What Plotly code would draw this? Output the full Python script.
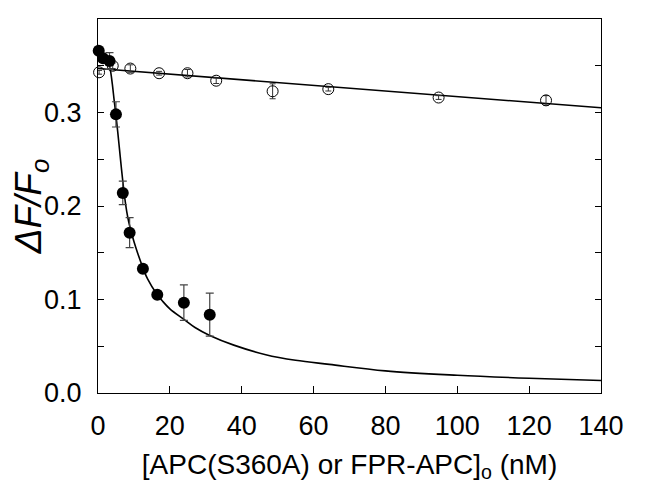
import plotly.graph_objects as go

# Open circles: FPR-APC
open_x = [0.3, 4.1, 9.0, 17.0, 24.9, 32.9, 48.6, 64.1, 94.8, 124.7]
open_y = [0.343, 0.350, 0.347, 0.342, 0.342, 0.334, 0.3227, 0.325, 0.316, 0.313]
open_err = [0.002, 0.003, 0.004, 0.002, 0.004, 0.003, 0.008, 0.002, 0.002, 0.005]

# Filled circles: APC(S360A)
fill_x = [0.2, 1.4, 3.2, 5.0, 6.9, 8.8, 12.5, 16.5, 23.9, 31.1]
fill_y = [0.366, 0.358, 0.355, 0.298, 0.2140, 0.1715, 0.133, 0.105, 0.0966, 0.0838]
fill_err = [0.002, 0.003, 0.009, 0.0135, 0.0125, 0.016, 0.003, 0.003, 0.019, 0.023]

# Fitted lines
fitA_x = [0, 140]
fitA_y = [0.347, 0.305]

fitB_x = [0, 1, 2, 2.5, 3.0, 3.5, 4.0, 4.5, 5.0, 5.5, 6.0, 6.5, 7.0, 7.5, 8.0, 8.5, 9.0, 10,
          11, 12.5, 13.8, 16.5, 17.8, 20, 23.9, 27, 31.1, 37.8, 46.7, 55, 64.4, 80, 100, 120, 140]
fitB_y = [0.369, 0.366, 0.361, 0.357, 0.352, 0.344, 0.330, 0.313, 0.297, 0.279, 0.260, 0.241,
          0.223, 0.207, 0.194, 0.184, 0.176, 0.162, 0.150, 0.134, 0.122, 0.105, 0.099, 0.090,
          0.0787, 0.070, 0.0615, 0.0512, 0.0410, 0.0350, 0.0306, 0.0237, 0.0190, 0.0158, 0.0134]

x_ticks = [0, 20, 40, 60, 80, 100, 120, 140]
y_ticks = [0.0, 0.1, 0.2, 0.3, 0.4]

fig = go.Figure()

fig.add_trace(go.Scatter(x=fitA_x, y=fitA_y, mode="lines",
                         line=dict(color="black", width=1.6), showlegend=False, hoverinfo="skip"))
fig.add_trace(go.Scatter(x=fitB_x, y=fitB_y, mode="lines", line_shape="spline",
                         line=dict(color="black", width=1.6), showlegend=False, hoverinfo="skip"))

fig.add_trace(go.Scatter(
    x=open_x, y=open_y, mode="markers",
    marker=dict(symbol="circle-open", size=11, color="black", line=dict(width=1)),
    error_y=dict(type="data", array=open_err, visible=True, color="#333333", thickness=1, width=3),
    cliponaxis=False, showlegend=False))

fig.add_trace(go.Scatter(
    x=fill_x, y=fill_y, mode="markers",
    marker=dict(symbol="circle", size=12, color="black"),
    error_y=dict(type="data", array=fill_err, visible=True, color="#444444", thickness=1.2, width=4),
    cliponaxis=False, showlegend=False))

font_family = "Liberation Sans, Arial, sans-serif"

fig.update_layout(
    width=650, height=496,
    margin=dict(l=90, r=57, t=11, b=111, autoexpand=False),
    paper_bgcolor="white", plot_bgcolor="white",
    font=dict(family=font_family, color="black", size=27),
    xaxis=dict(
        range=[0, 140], tickvals=x_ticks, ticktext=[str(v) for v in x_ticks],
        ticks="inside", ticklen=7, tickwidth=1, tickcolor="black",
        showline=True, linecolor="black", linewidth=1.2, mirror=True,
        showgrid=False, zeroline=False, automargin=False,
        tickfont=dict(size=27), ticklabelstandoff=8,
        title=dict(text="[APC(S360A) or FPR-APC]<sub>o</sub> (nM)", font=dict(size=28), standoff=14),
    ),
    yaxis=dict(
        range=[0, 0.4], tickvals=y_ticks, ticktext=["%.1f" % v for v in y_ticks],
        ticks="inside", ticklen=6, tickwidth=1, tickcolor="black",
        minor=dict(dtick=0.05, ticks="inside", ticklen=6, tickwidth=1, tickcolor="black", showgrid=False),
        showline=True, linecolor="black", linewidth=1.2, mirror="allticks",
        showgrid=False, zeroline=False, automargin=False,
        tickfont=dict(size=27), ticklabelstandoff=10,
        title=dict(text="<i>ΔF/F<sub>o</sub></i>", font=dict(size=37), standoff=11),
    ),
)

fig.write_html("out.html")
